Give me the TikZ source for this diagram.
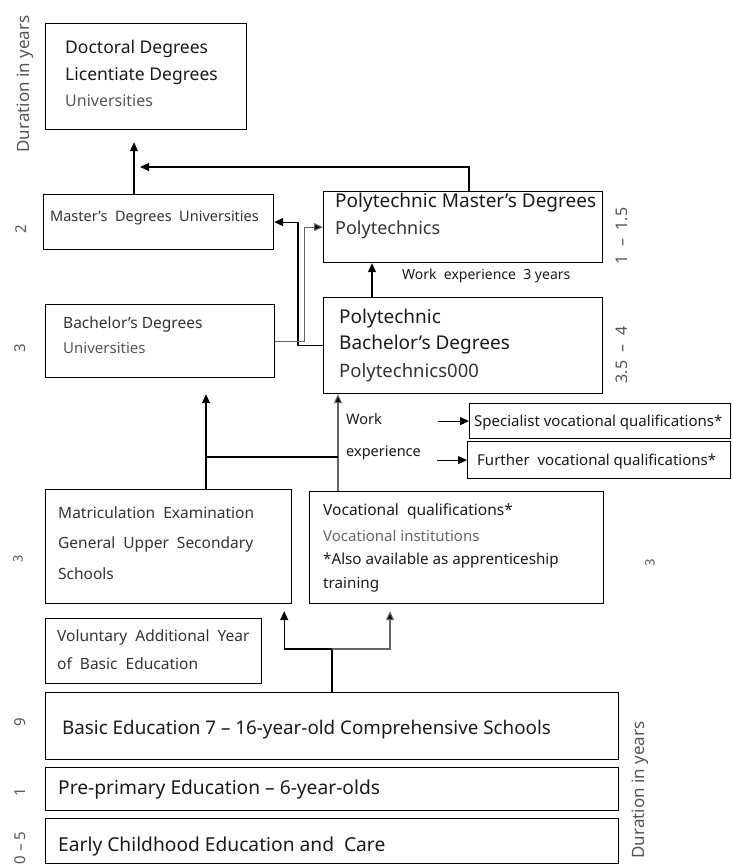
\documentclass[tikz,border=0pt]{standalone}
\usepackage{fontspec}
\setmainfont{Noto Sans}
\usetikzlibrary{arrows.meta}
\definecolor{dk}{HTML}{1A1A1A}
\definecolor{mid}{HTML}{333333}
\definecolor{gr}{HTML}{555555}
\definecolor{lg}{HTML}{666666}
\newcommand{\FS}[1]{\fontsize{#1}{#1}\selectfont}
\newcommand{\Tline}[6]{\node[anchor=base west, inner sep=0pt, text=#4, font=\FS{#3}] (#6) at (#1,{#2+0.36*#3}) {#5};}
\newcommand{\Rlab}[5]{\node[rotate=90, inner sep=0pt, text=gr, font=\FS{#3}] (#5) at (#1,#2) {#4};}
\begin{document}
\begin{tikzpicture}[x=1pt,y=-1pt,
  box/.style={draw=black, line width=1.2pt, inner sep=0pt, anchor=north west},
  conn/.style={line width=1.1pt, draw=black},
  arr/.style={conn, -{Triangle[length=9pt,width=8pt,fill=black]}},
]
\useasboundingbox (0,0) rectangle (732,864);
% boxes
\node[box, minimum width=201pt, minimum height=106pt] (doc) at (45,23) {};
\node[box, minimum width=230pt, minimum height=55pt] (mu) at (43,194) {};
\node[box, minimum width=279pt, minimum height=71pt] (pm) at (323,191) {};
\node[box, minimum width=279pt, minimum height=96pt] (pb) at (323,297) {};
\node[box, minimum width=229pt, minimum height=73pt] (bu) at (45,304) {};
\node[box, minimum width=261pt, minimum height=35pt] (spec) at (469,403) {};
\node[box, minimum width=263pt, minimum height=37pt] (furth) at (467,441) {};
\node[box, minimum width=246pt, minimum height=114pt] (mat) at (45,489) {};
\node[box, minimum width=294pt, minimum height=112pt] (voc) at (309,491) {};
\node[box, minimum width=216pt, minimum height=65pt] (vol) at (45,618) {};
\node[box, minimum width=573pt, minimum height=67pt] (basic) at (45,692) {};
\node[box, minimum width=573pt, minimum height=43pt] (pre) at (45,767) {};
\node[box, minimum width=573pt, minimum height=45pt] (early) at (45,818) {};
% connectors
\draw[arr] ([xshift=91pt]mu.north west) -- ([xshift=89pt,yshift=-12pt]doc.south west);
\coordinate (dtip) at (140,167);
\draw[arr] ([xshift=146pt]pm.north west) |- (dtip);
\draw[arr] (pb.west) -- ++(-25,0) |- (mu.east);
\draw[arr, draw=lg] (bu.east) -- ++(29,0) |- (pm.west);
\draw[arr] ([xshift=49pt]pb.north west) -- ([xshift=49pt]pm.south west);
\draw[arr] ([xshift=161pt]mat.north west) -- ([xshift=161pt,yshift=-16pt]bu.south west);
\draw[arr, draw=lg] ([xshift=29pt]voc.north west) -- ([xshift=15pt]pb.south west);
\coordinate (j1) at (206,457);
\coordinate (j2) at (338,457);
\draw[conn] (j1) -- (j2);
\draw[arr] ([xshift=-31pt]spec.west) -- (spec.west);
\draw[arr] ([xshift=-30pt]furth.west) -- (furth.west);
\coordinate (b1) at (332,649);
\draw[conn] ([xshift=287pt]basic.north west) -- (b1);
\draw[arr] (b1) -| ([xshift=-8pt,yshift=-7pt]mat.south east);
\draw[arr, draw=lg] (b1) -| ([xshift=81pt,yshift=-7pt]voc.south west);
% texts
\Tline{65}{47}{17.5}{dk}{Doctoral Degrees}{t1}
\Tline{65}{74}{17.5}{dk}{Licentiate Degrees}{t2}
\Tline{65}{101}{16}{gr}{Universities}{t3}
\Tline{50}{216}{14.5}{mid}{Master’s\ \ Degrees\ \ Universities}{t4}
\Tline{335}{201}{19}{dk}{Polytechnic Master’s Degrees}{t5}
\Tline{335}{228}{18}{mid}{Polytechnics}{t6}
\Tline{402}{274}{14}{dk}{Work\ \ experience\ \ 3 years}{t7}
\Tline{339}{317}{19}{dk}{Polytechnic}{t8}
\Tline{339}{343}{19}{dk}{Bachelor’s Degrees}{t9}
\Tline{339}{371}{18.5}{mid}{Polytechnics000}{t10}
\Tline{63}{323}{15.5}{mid}{Bachelor’s Degrees}{t11}
\Tline{63}{348}{15}{gr}{Universities}{t12}
\Tline{346}{419}{14.5}{dk}{Work}{t13}
\Tline{346}{451}{14.5}{dk}{experience}{t14}
\Tline{474}{421}{15}{dk}{Specialist vocational qualifications*}{t15}
\Tline{477}{460}{15}{dk}{Further\ \ vocational qualifications*}{t16}
\Tline{58}{513}{15.5}{mid}{Matriculation\ \ Examination}{t17}
\Tline{58}{543}{15.5}{mid}{General\ \ Upper\ \ Secondary}{t18}
\Tline{58}{574}{15.5}{mid}{Schools}{t19}
\Tline{323}{510}{15.5}{dk}{Vocational\ \ qualifications*}{t20}
\Tline{323}{536}{15}{lg}{Vocational institutions}{t21}
\Tline{323}{559}{15.2}{dk}{*Also available as apprenticeship}{t22}
\Tline{323}{583}{15.2}{dk}{training}{t23}
\Tline{57}{636}{15.5}{mid}{Voluntary\ \ Additional\ \ Year}{t24}
\Tline{57}{664}{15.5}{mid}{of\ \ Basic\ \ Education}{t25}
\Tline{62}{728}{18.8}{dk}{Basic Education 7 – 16-year-old Comprehensive Schools}{t26}
\Tline{58}{788}{19.2}{dk}{Pre-primary Education – 6-year-olds}{t27}
\Tline{58}{845}{19.2}{dk}{Early Childhood Education and\ \ Care}{t28}
% rotated duration labels
\Rlab{25}{84}{17}{Duration in years}{r1}
\Rlab{21}{229}{15}{2}{r2}
\Rlab{622}{236}{16}{1\ \ –\ \ 1.5}{r3}
\Rlab{20}{348}{15}{3}{r4}
\Rlab{622}{355}{16}{3.5\ \ –\ \ 4}{r5}
\Rlab{18}{559}{13}{3}{r6}
\Rlab{650}{563}{13}{3}{r7}
\Rlab{20}{722}{15}{9}{r8}
\Rlab{20}{792}{15}{1}{r9}
\Rlab{20}{848}{15}{0\ –\ 5}{r10}
\Rlab{640}{790}{17}{Duration in years}{r11}
\end{tikzpicture}
\end{document}
